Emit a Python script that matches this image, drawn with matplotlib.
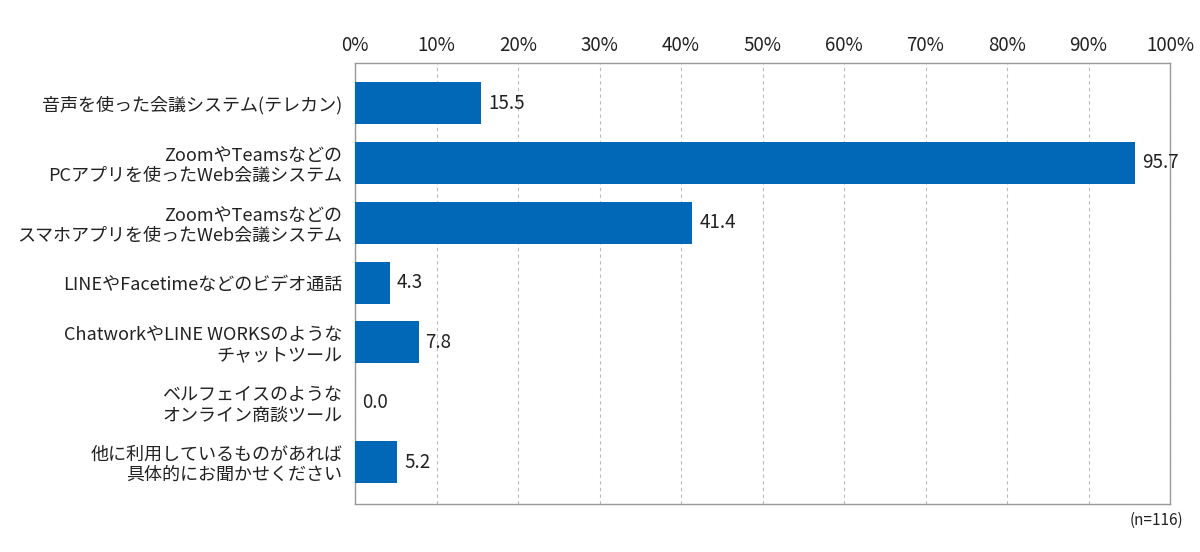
import matplotlib
matplotlib.use("Agg")
import matplotlib.pyplot as plt
import matplotlib.transforms as mtransforms
from matplotlib.ticker import FuncFormatter, MultipleLocator

plt.rcParams['font.family'] = ['Noto Sans CJK JP', 'DejaVu Sans']

categories = [
    "音声を使った会議システム(テレカン)",
    "ZoomやTeamsなどの\nPCアプリを使ったWeb会議システム",
    "ZoomやTeamsなどの\nスマホアプリを使ったWeb会議システム",
    "LINEやFacetimeなどのビデオ通話",
    "ChatworkやLINE WORKSのような\nチャットツール",
    "ベルフェイスのような\nオンライン商談ツール",
    "他に利用しているものがあれば\n具体的にお聞かせください",
]
values = [15.5, 95.7, 41.4, 4.3, 7.8, 0.0, 5.2]
n_label = "(n=116)"

bar_color = "#0068B7"
spine_color = "#999999"
text_color = "#222222"

fig = plt.figure(figsize=(12, 5.52), dpi=100)
ax = fig.add_axes([355/1200, 1-504/552, 815/1200, 441/552])

y = list(range(len(categories)))
ax.barh(y, values, height=0.70, color=bar_color, zorder=3)

for yi, v in zip(y, values):
    ax.annotate(f"{v:.1f}", xy=(v, yi), xytext=(5, 0), textcoords="offset points",
                ha="left", va="center", fontsize=13.5, color=text_color, zorder=4)

ax.set_xlim(0, 100)
ax.set_ylim(6.70, -0.67)
ax.xaxis.set_major_locator(MultipleLocator(10))
ax.xaxis.set_major_formatter(FuncFormatter(lambda x, p: f"{int(round(x))}%"))
ax.xaxis.tick_top()
ax.tick_params(axis='x', length=0, pad=5, labelsize=13.5, labelcolor=text_color)
ax.set_yticks(y)
ax.set_yticklabels(categories, fontsize=13, color=text_color, linespacing=1.15)
ax.tick_params(axis='y', length=0, pad=9)

ax.grid(axis='x', linestyle=(0, (3, 3)), color="#bbbbbb", linewidth=0.8, zorder=0)
ax.grid(axis='y', visible=False)
for s in ax.spines.values():
    s.set_color(spine_color)
    s.set_linewidth(1.0)

fig.text(1183/1200, 1-520/552, n_label, ha="right", va="center", fontsize=11, color=text_color)

# nudge the end tick labels inward like the original
fig.canvas.draw()
ticks = ax.xaxis.get_major_ticks()
for t, dx in ((ticks[0], 7), (ticks[-1], -8)):
    off = mtransforms.ScaledTranslation(dx / 100, 0, fig.dpi_scale_trans)
    t.label2.set_transform(t.label2.get_transform() + off)

fig.savefig("out.png", dpi=100)
